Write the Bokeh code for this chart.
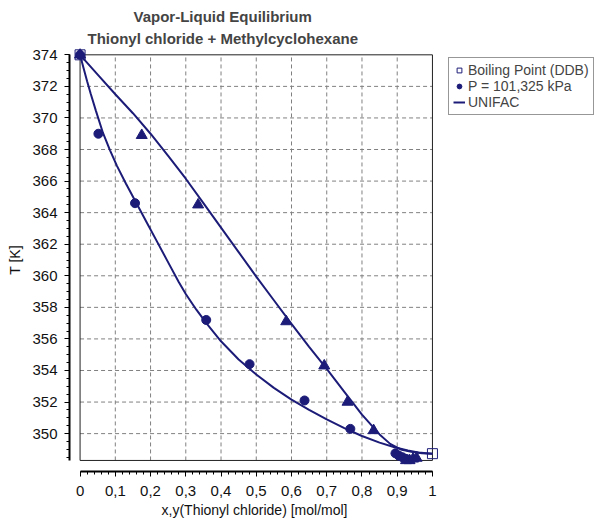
from bokeh.plotting import figure
from bokeh.models import FixedTicker, Legend, LegendItem, Title, Range1d
from bokeh.embed import file_html
from bokeh.resources import INLINE

# ---- data ----
x_liq = [0.0, 0.052, 0.156, 0.358, 0.481, 0.637, 0.767, 0.895, 0.905, 0.915, 0.925]
T_liq = [374.0, 369.0, 364.6, 357.2, 354.4, 352.1, 350.3, 348.75, 348.6, 348.5, 348.4]

y_vap = [0.0, 0.175, 0.335, 0.585, 0.693, 0.759, 0.833, 0.925, 0.935, 0.945, 0.955]
T_vap = [374.0, 368.9, 364.5, 357.1, 354.3, 352.0, 350.2, 348.3, 348.3, 348.4, 348.45]

x_bp = [0.0, 1.0]
T_bp = [374.0, 348.73]

x_bub = [0.0, 0.01, 0.02, 0.03, 0.045, 0.065, 0.085, 0.105, 0.13, 0.16, 0.19, 0.22,
         0.25, 0.28, 0.30, 0.33, 0.36, 0.40, 0.45, 0.50, 0.55, 0.60, 0.65, 0.70,
         0.75, 0.80, 0.85, 0.89, 0.93, 0.96, 1.0]
T_bub = [374.0, 373.15, 372.33, 371.55, 370.45, 369.05, 367.95, 366.95, 365.85, 364.6,
         363.35, 362.1, 360.85, 359.6, 358.85, 357.85, 356.95, 355.85, 354.7, 353.75,
         352.9, 352.15, 351.5, 350.9, 350.35, 349.85, 349.43, 349.15, 348.93, 348.8, 348.73]

y_dew = [0.0, 0.05, 0.10, 0.15, 0.20, 0.25, 0.30, 0.35, 0.40, 0.45, 0.50, 0.55,
         0.60, 0.65, 0.70, 0.75, 0.80, 0.85, 0.88, 0.91, 0.94, 0.97, 1.0]
T_dew = [374.0, 372.75, 371.5, 370.3, 369.0, 367.6, 366.15, 364.6, 363.05, 361.5,
         359.95, 358.45, 356.95, 355.5, 354.1, 352.65, 351.2, 349.95, 349.35, 349.0,
         348.85, 348.76, 348.73]

x_ticks = [0, 0.1, 0.2, 0.3, 0.4, 0.5, 0.6, 0.7, 0.8, 0.9, 1]
x_tick_labels = ["0", "0,1", "0,2", "0,3", "0,4", "0,5", "0,6", "0,7", "0,8", "0,9", "1"]
y_ticks = [350, 352, 354, 356, 358, 360, 362, 364, 366, 368, 370, 372, 374]

title1 = "Vapor-Liquid Equilibrium"
title2 = "Thionyl chloride + Methylcyclohexane"
x_label = "x,y(Thionyl chloride) [mol/mol]"
y_label = "T [K]"
leg_labels = ["Boiling Point (DDB)", "P = 101,325 kPa", "UNIFAC"]

# ---- style ----
NAVY = "#1c1c78"
FONT = "Liberation Sans"
X0, X1 = 0.0, 1.0
Y0, Y1 = 348.3, 374.0

p = figure(frame_width=370, frame_height=423,
           x_range=Range1d(-0.03, 1.02), y_range=Range1d(347.6, 374.4),
           output_backend="svg", toolbar_location=None,
           min_border_left=69, min_border_right=158, min_border_top=48,
           min_border_bottom=50)
p.outline_line_color = None
p.xgrid.visible = False
p.ygrid.visible = False

p.add_layout(Title(text=title2, align="left", offset=18, text_font=FONT,
                   text_font_size="15px", text_font_style="bold", standoff=4), "above")
p.add_layout(Title(text=title1, align="left", offset=64, text_font=FONT,
                   text_font_size="15px", text_font_style="bold", standoff=1), "above")

# grid lines inside the box
gx = [t for t in x_ticks if X0 < t < X1]
gy = [t for t in y_ticks if Y0 < t < Y1]
p.segment(x0=gx, y0=[Y0] * len(gx), x1=gx, y1=[Y1] * len(gx),
          line_color="#808080", line_dash="4 3", line_width=1)
p.segment(x0=[X0] * len(gy), y0=gy, x1=[X1] * len(gy), y1=gy,
          line_color="#808080", line_dash="4 3", line_width=1)
p.quad(left=[X0], right=[X1], bottom=[Y0], top=[Y1], fill_color=None,
       line_color="#202020", line_width=1)

# curves
l_bub = p.line(x_bub, T_bub, line_color=NAVY, line_width=2)
p.line(y_dew, T_dew, line_color=NAVY, line_width=2)

# points
r_liq = p.scatter(x_liq, T_liq, marker="circle", size=9, fill_color=NAVY, line_color=NAVY)
p.scatter(y_vap, T_vap, marker="triangle", size=11, fill_color=NAVY, line_color=NAVY)
r_bp = p.scatter(x_bp, T_bp, marker="square", size=10, fill_color=None,
                 line_color=NAVY, line_width=1)

# axes
for ax in (p.xaxis[0], p.yaxis[0]):
    ax.axis_line_width = 2
    ax.axis_line_color = "black"
    ax.major_tick_line_color = "black"
    ax.minor_tick_line_color = "black"
    ax.major_tick_in = 0
    ax.minor_tick_in = 0
    ax.major_tick_out = 5
    ax.minor_tick_out = 3
    ax.major_label_text_font = FONT
    ax.major_label_text_font_size = "15px"
    ax.major_label_text_color = "#111111"
    ax.axis_label_text_font = FONT
    ax.axis_label_text_font_size = "14px"
    ax.axis_label_text_font_style = "normal"
    ax.axis_label_text_color = "#111111"

p.xaxis.ticker = FixedTicker(ticks=x_ticks, minor_ticks=[round(i * 0.02, 2) for i in range(51)])
p.xaxis.major_label_overrides = dict(zip(x_ticks, x_tick_labels))
p.xaxis.bounds = (X0, X1)
p.xaxis.axis_label = x_label
p.xaxis.major_label_standoff = 9
p.xaxis.axis_label_standoff = 3

p.yaxis.ticker = FixedTicker(ticks=y_ticks, minor_ticks=[348.5 + 0.5 * i for i in range(52)])
p.yaxis.bounds = (Y0, Y1)
p.yaxis.axis_label = y_label
p.yaxis.major_label_standoff = 7
p.yaxis.axis_label_standoff = 6

legend = Legend(items=[LegendItem(label=leg_labels[0], renderers=[r_bp]),
                       LegendItem(label=leg_labels[1], renderers=[r_liq]),
                       LegendItem(label=leg_labels[2], renderers=[l_bub])],
                location="top_left", margin=9, padding=4, spacing=0,
                glyph_width=12, glyph_height=12, label_height=12, label_standoff=3,
                label_text_font=FONT, label_text_font_size="14px",
                border_line_color="#303030", border_line_width=1,
                background_fill_color="white")
p.add_layout(legend, "right")

open("out.html", "w").write(file_html(p, INLINE))
